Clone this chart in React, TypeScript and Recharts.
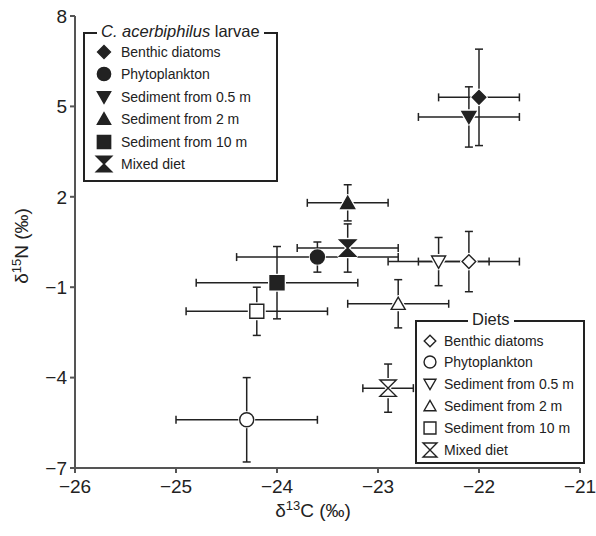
import { ScatterChart, Scatter, XAxis, YAxis, ErrorBar } from "recharts"

// 범례/시리즈 공통 라벨
const dietLabels = ["Benthic diatoms", "Phytoplankton", "Sediment from 0.5 m", "Sediment from 2 m", "Sediment from 10 m", "Mixed diet"]
const markerKinds = ["diamond", "circle", "triDown", "triUp", "square", "hourglass"]

// C. acerbiphilus larvae (mean ± SD)
const larvaeD13C = [-22.0, -23.6, -22.1, -23.3, -24.0, -23.3]
const larvaeD15N = [5.3, 0.0, 4.65, 1.8, -0.85, 0.3]
const larvaeD13CSd = [0.4, 0.8, 0.5, 0.4, 0.8, 0.5]
const larvaeD15NSd = [1.6, 0.5, 1.0, 0.6, 1.2, 0.8]

// Diets (mean ± SD)
const dietD13C = [-22.1, -24.3, -22.4, -22.8, -24.2, -22.9]
const dietD15N = [-0.15, -5.4, -0.15, -1.55, -1.8, -4.35]
const dietD13CSd = [0.5, 0.7, 0.5, 0.5, 0.7, 0.25]
const dietD15NSd = [1.0, 1.4, 0.8, 0.8, 0.8, 0.8]

const xTicks = [-26, -25, -24, -23, -22, -21]
const yTicks = [8, 5, 2, -1, -4, -7]

const FONT = "'Liberation Sans', Arial, sans-serif"
const INK = "#222"
const AXIS = "#555"

const fmt = (v: number) => (v < 0 ? "\u2212" + Math.abs(v) : String(v))

function markerPath(kind: string, cx: number, cy: number, s: number) {
    switch (kind) {
        case "diamond":
            return `M${cx},${cy - s}L${cx + s},${cy}L${cx},${cy + s}L${cx - s},${cy}Z`
        case "triDown":
            return `M${cx - s},${cy - s * 0.8}L${cx + s},${cy - s * 0.8}L${cx},${cy + s * 0.95}Z`
        case "triUp":
            return `M${cx - s},${cy + s * 0.8}L${cx + s},${cy + s * 0.8}L${cx},${cy - s * 0.95}Z`
        case "square":
            return `M${cx - s},${cy - s}H${cx + s}V${cy + s}H${cx - s}Z`
        case "hourglass":
            return `M${cx - s},${cy - s}L${cx + s},${cy - s}L${cx - s},${cy + s}L${cx + s},${cy + s}Z`
        default:
            return ""
    }
}

const markerSize: Record<string, number> = { diamond: 6.8, circle: 7, triDown: 7, triUp: 7, square: 7, hourglass: 8.2 }

function Marker({ kind, cx, cy, filled, scale = 1, halo = true }: any) {
    const s = markerSize[kind] * scale
    const fill = filled ? INK : "#fff"
    if (kind === "circle") {
        return (
            <g>
                {halo && <circle cx={cx} cy={cy} r={s + 1.5} fill="#fff" />}
                <circle cx={cx} cy={cy} r={s} fill={fill} stroke={INK} strokeWidth={1.4} />
            </g>
        )
    }
    const d = markerPath(kind, cx, cy, s)
    return (
        <g>
            {halo && <path d={d} fill="#fff" stroke="#fff" strokeWidth={4} strokeLinejoin="round" />}
            <path d={d} fill={fill} stroke={INK} strokeWidth={1.4} strokeLinejoin="miter" />
        </g>
    )
}

const larvaeSeries = dietLabels.map((name, i) => ({
    name,
    kind: markerKinds[i],
    data: [{ x: larvaeD13C[i], y: larvaeD15N[i], xErr: larvaeD13CSd[i], yErr: larvaeD15NSd[i] }],
}))
const dietSeries = dietLabels.map((name, i) => ({
    name,
    kind: markerKinds[i],
    data: [{ x: dietD13C[i], y: dietD15N[i], xErr: dietD13CSd[i], yErr: dietD15NSd[i] }],
}))

function LegendBox({ title, left, top, width, height, titleLeft, rowTop, rowGap, markerX, textX, filled }: any) {
    return (
        <div style={{ position: "absolute", left, top, width, height, pointerEvents: "none" }}>
            <div
                style={{
                    position: "absolute",
                    left: 0,
                    top: 0,
                    width,
                    height,
                    boxSizing: "border-box",
                    border: `2px solid ${INK}`,
                    background: "#fff",
                }}
            />
            <div
                style={{
                    position: "absolute",
                    left: titleLeft,
                    top: -11,
                    padding: "0 4px",
                    background: "#fff",
                    fontSize: 16.5,
                    lineHeight: "20px",
                    color: INK,
                    whiteSpace: "nowrap",
                }}
            >
                {title}
            </div>
            {dietLabels.map((label, i) => (
                <div key={label} style={{ position: "absolute", left: 0, top: rowTop + i * rowGap - 10, height: 20 }}>
                    <svg width={20} height={20} style={{ position: "absolute", left: markerX - 10, top: 0 }}>
                        <Marker kind={markerKinds[i]} cx={10} cy={10} filled={filled} scale={filled ? 0.95 : 0.85} halo={false} />
                    </svg>
                    <span
                        style={{
                            position: "absolute",
                            left: textX,
                            top: 0,
                            fontSize: 14,
                            lineHeight: "20px",
                            color: INK,
                            whiteSpace: "nowrap",
                        }}
                    >
                        {label}
                    </span>
                </div>
            ))}
        </div>
    )
}

export default function App() {
    return (
        <div
            style={{
                position: "absolute",
                left: 0,
                top: 0,
                width: 596,
                height: 536,
                background: "#fff",
                fontFamily: FONT,
            }}
        >
            <ScatterChart width={596} height={536} margin={{ top: 16, right: 16, bottom: 0, left: 0 }}>
                <XAxis
                    type="number"
                    dataKey="x"
                    domain={[-26, -21]}
                    ticks={xTicks}
                    allowDataOverflow
                    height={68}
                    tickSize={5}
                    tickMargin={7}
                    tickFormatter={fmt}
                    stroke={AXIS}
                    strokeWidth={2}
                    tick={{ fill: INK, fontSize: 19, fontFamily: FONT }}
                    label={{
                        content: () => (
                            <text x={313} y={517} textAnchor="middle" fontSize={19} fontFamily={FONT} fill={INK}>
                                <tspan>δ</tspan>
                                <tspan dy={-7} fontSize={13}>13</tspan>
                                <tspan dy={7}>C (‰)</tspan>
                            </text>
                        ),
                    }}
                />
                <YAxis
                    type="number"
                    dataKey="y"
                    domain={[-7, 8]}
                    ticks={yTicks}
                    allowDataOverflow
                    width={75}
                    tickSize={5}
                    tickMargin={3}
                    tickFormatter={fmt}
                    stroke={AXIS}
                    strokeWidth={2}
                    tick={{ fill: INK, fontSize: 19, fontFamily: FONT }}
                    label={{
                        content: () => (
                            <text
                                x={0}
                                y={0}
                                transform="translate(28 246) rotate(-90)"
                                textAnchor="middle"
                                fontSize={19}
                                fontFamily={FONT}
                                fill={INK}
                            >
                                <tspan>δ</tspan>
                                <tspan dy={-7} fontSize={13}>15</tspan>
                                <tspan dy={7}>N (‰)</tspan>
                            </text>
                        ),
                    }}
                />
                {dietSeries.map((s) => (
                    <Scatter
                        key={"diet-" + s.name}
                        name={"Diet " + s.name}
                        data={s.data}
                        isAnimationActive={false}
                        shape={(p: any) => <Marker kind={s.kind} cx={p.cx} cy={p.cy} filled={false} />}
                    >
                        <ErrorBar dataKey="xErr" direction="x" width={4} stroke={INK} strokeWidth={1.5} />
                        <ErrorBar dataKey="yErr" direction="y" width={4} stroke={INK} strokeWidth={1.5} />
                    </Scatter>
                ))}
                {larvaeSeries.map((s) => (
                    <Scatter
                        key={"larvae-" + s.name}
                        name={"Larvae " + s.name}
                        data={s.data}
                        isAnimationActive={false}
                        shape={(p: any) => <Marker kind={s.kind} cx={p.cx} cy={p.cy} filled />}
                    >
                        <ErrorBar dataKey="xErr" direction="x" width={4} stroke={INK} strokeWidth={1.5} />
                        <ErrorBar dataKey="yErr" direction="y" width={4} stroke={INK} strokeWidth={1.5} />
                    </Scatter>
                ))}
            </ScatterChart>
            <LegendBox
                title={
                    <span>
                        <i>C. acerbiphilus</i> larvae
                    </span>
                }
                left={83}
                top={32}
                width={195}
                height={150}
                titleLeft={14}
                rowTop={20}
                rowGap={22.4}
                markerX={21}
                textX={38}
                filled
            />
            <LegendBox
                title="Diets"
                left={415}
                top={320}
                width={170}
                height={144}
                titleLeft={53}
                rowTop={20.5}
                rowGap={21.8}
                markerX={15}
                textX={29}
                filled={false}
            />
        </div>
    )
}
